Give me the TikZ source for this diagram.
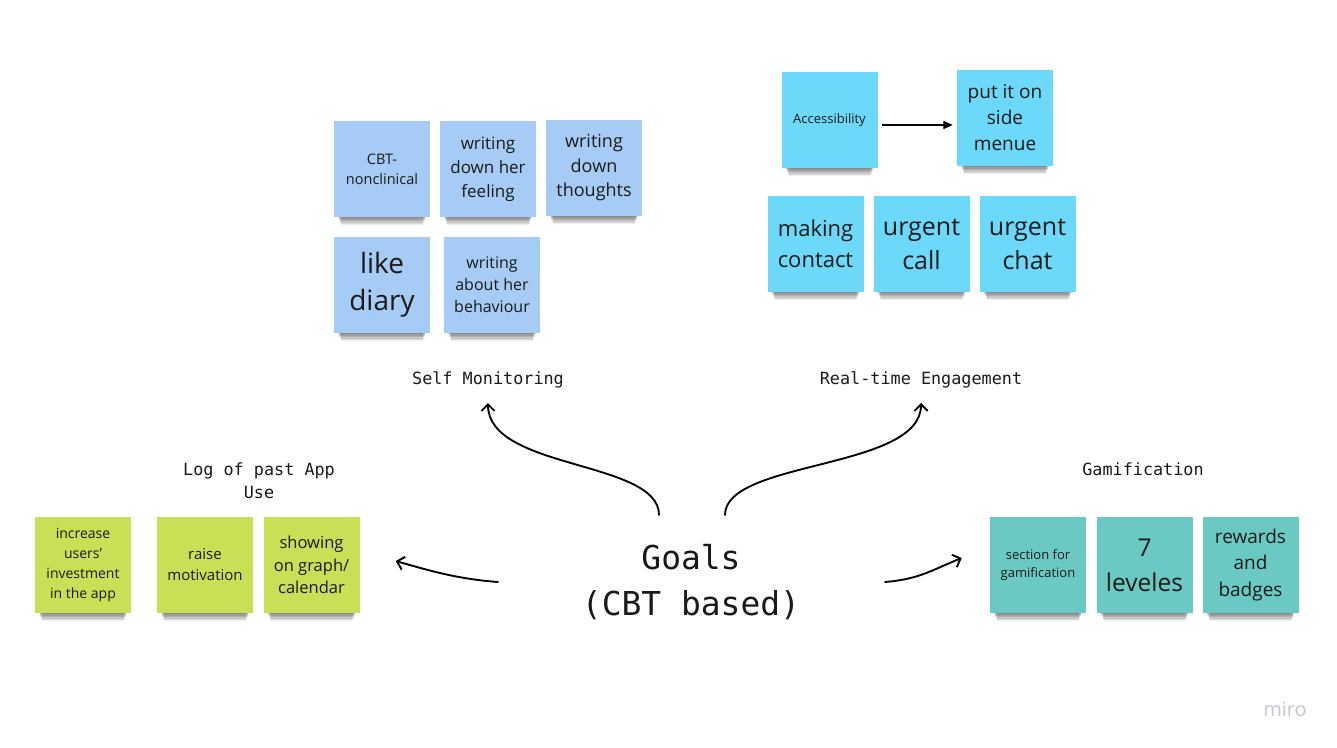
\documentclass[tikz,border=0pt]{standalone}
\usepackage{fontspec}
\setmainfont{Open Sans}
\setmonofont{DejaVu Sans Mono}
\usetikzlibrary{arrows.meta,shadows,calc}

\definecolor{smblue}{HTML}{A6CCF5}
\definecolor{rtcyan}{HTML}{6CD8FA}
\definecolor{loggreen}{HTML}{C9DF56}
\definecolor{gamteal}{HTML}{6AC9C2}
\definecolor{notetext}{HTML}{1A1A1A}
\definecolor{mirogray}{HTML}{C5C7D0}

\begin{document}
\begin{tikzpicture}[x=0.75pt, y=-0.75pt,
    note/.style={rectangle, fill=#1, minimum size=72pt, inner sep=0pt, align=center, text=notetext,
      general shadow={fill=black, opacity=.07, shadow scale=.845, shadow yshift=-14.1pt},
      general shadow={fill=black, opacity=.08, shadow scale=.86, shadow yshift=-12pt},
      general shadow={fill=black, opacity=.09, shadow scale=.875, shadow yshift=-10pt},
      general shadow={fill=black, opacity=.10, shadow scale=.89, shadow yshift=-8pt},
      general shadow={fill=black, opacity=.11, shadow scale=.905, shadow yshift=-5.9pt},
      general shadow={fill=black, opacity=.12, shadow scale=.92, shadow yshift=-3.9pt}},
    fs/.style 2 args={font=\fontsize{#1}{#2}\selectfont},
    grouplabel/.style={font=\ttfamily\fontsize{12.6}{17.25}\selectfont, align=center, text=notetext},
    goalarrow/.style={-{Straight Barb[length=5pt,width=10pt]}, line width=1.4pt, line cap=round}]

  \fill[white] (0,0) rectangle (1337,747);
  \useasboundingbox (0,0) rectangle (1337,747);

  % self monitoring
  \node[note=smblue, fs={10.9}{14.8}] (cbt) at (382,169) {CBT-\\nonclinical};
  \node[note=smblue, fs={12.75}{18}] (feeling) at (488,169) {writing\\down her\\feeling};
  \node[note=smblue, fs={13.5}{18.4}] (thoughts) at (594,168) {writing\\down\\thoughts};
  \node[note=smblue, fs={21}{27.75}] (diary) at (382,285) {like\\diary};
  \node[note=smblue, fs={12}{16.5}] (behaviour) at (492,285) {writing\\about her\\behaviour};

  % real-time engagement
  \node[note=rtcyan, fs={9.75}{13}] (access) at (829.5,120) {Accessibility};
  \node[note=rtcyan, fs={14.25}{19.5}] (sidemenu) at (1005,118) {put it on\\side\\menue};
  \node[note=rtcyan, fs={16.5}{23.25}] (contact) at (815.5,244) {making\\contact};
  \node[note=rtcyan, fs={18.75}{25.5}] (call) at (921.5,244) {urgent\\call};
  \node[note=rtcyan, fs={18.75}{25.5}] (chat) at (1027.5,244) {urgent\\chat};

  % log of past use
  \node[note=loggreen, fs={10.5}{14.8}] (invest) at (83,565) {increase\\users'\\investment\\in the app};
  \node[note=loggreen, fs={11.25}{15.75}] (motiv) at (205,565) {raise\\motivation};
  \node[note=loggreen, fs={12.4}{16.9}] (graph) at (311.5,565) {showing\\on graph/\\calendar};

  % gamification
  \node[note=gamteal, fs={9.75}{13.5}] (gsection) at (1038,565) {section for\\gamification};
  \node[note=gamteal, fs={18.4}{26.25}] (levels) at (1144.5,565) {7\\leveles};
  \node[note=gamteal, fs={14.25}{19.9}] (rewards) at (1250.5,565) {rewards\\and\\badges};

  % labels
  \node[grouplabel] (selfmon) at (488,380) {Self Monitoring};
  \node[grouplabel] (realtime) at (921,380) {Real-time Engagement};
  \node[grouplabel] (pastlog) at (259,481) {Log of past App\\Use};
  \node[grouplabel] (gamif) at (1143,469) {Gamification};
  \node[font=\ttfamily\fontsize{24.7}{34.5}\selectfont, align=center, text=notetext] (goals) at (691,582) {Goals\\(CBT based)};
  \node[font=\fontsize{15}{18}\selectfont, text=mirogray] (miro) at (1285,709) {miro};

  \draw[-{Triangle[length=7pt,width=6pt]}, line width=0.8pt, shorten <=3pt, shorten >=3pt]
    ([yshift=-3.75pt]access.east) -- ([yshift=-3.75pt]access.east -| sidemenu.west);

  \draw[goalarrow] ($(goals)+(-32,-67)$) .. controls +(0,-55) and +(0,67) .. ($(selfmon)+(0,23)$);
  \draw[goalarrow] ($(goals)+(34,-67)$) .. controls +(0,-55) and +(0,67) .. ($(realtime)+(0,23)$);
  \draw[goalarrow] ($(goals)+(-193,0)$) .. controls +(-40,-3) and +(35,10) .. ($(graph.east)+(36,-4)$);
  \draw[goalarrow] ($(goals)+(194,0)$) .. controls +(35,-3) and +(-30,12) .. ($(gsection.west)+(-28,-7)$);

\end{tikzpicture}
\end{document}
